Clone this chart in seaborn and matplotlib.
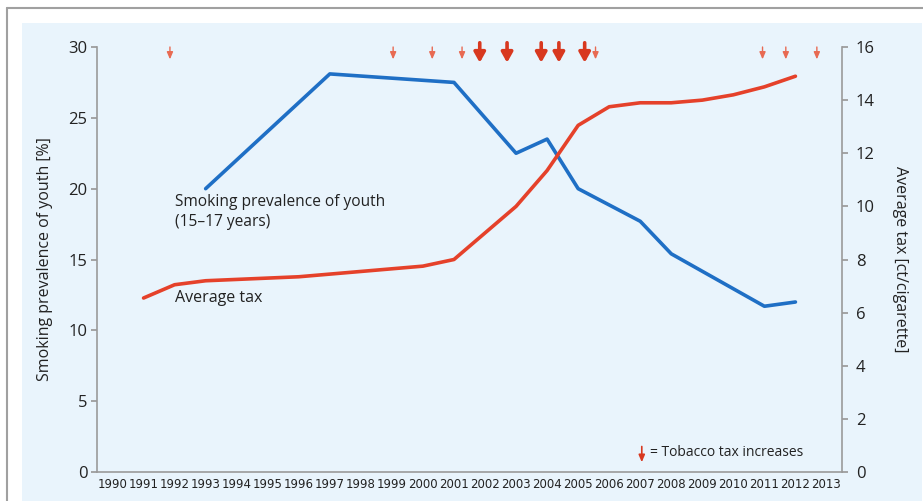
import matplotlib
matplotlib.use("Agg")
import matplotlib.pyplot as plt
import pandas as pd
import seaborn as sns
from matplotlib.lines import Line2D
from matplotlib.patches import Rectangle

sns.set_theme(style="white")
plt.rcParams["font.family"] = ["Open Sans", "DejaVu Sans"]

# Data
youth_years = [1993, 1997, 2001, 2003, 2004, 2005, 2007, 2008, 2011, 2012]
youth_prevalence = [20.0, 28.1, 27.5, 22.5, 23.5, 20.0, 17.7, 15.4, 11.7, 12.0]

tax_years = list(range(1991, 2013))
tax_values = [6.55, 7.05, 7.2, 7.25, 7.3, 7.35, 7.45, 7.55, 7.65, 7.75, 8.0,
              9.0, 10.0, 11.35, 13.05, 13.75, 13.9, 13.9, 14.0, 14.2, 14.5, 14.9]

# Tobacco tax increases (small and large arrows)
small_increases = [1991.85, 1999.04, 2000.3, 2001.26, 2005.56, 2010.94, 2011.69, 2012.69]
large_increases = [2001.83, 2002.71, 2003.81, 2004.38, 2005.21]

year_labels = list(range(1990, 2014))

blue = "#1f6fc5"
red = "#e5412a"
grey = "#9a9a9a"
txt = "#222222"
panel = "#e9f4fc"

youth = pd.DataFrame({"year": youth_years, "prev": youth_prevalence})
tax = pd.DataFrame({"year": tax_years, "tax": tax_values})

fig = plt.figure(figsize=(9.23, 5.01), dpi=100)
fig.patch.set_facecolor("white")
fig.patches.append(Rectangle((22 / 923, 0), 900 / 923, 478 / 501,
                             transform=fig.transFigure, facecolor=panel,
                             edgecolor="none", zorder=-5))
fig.add_artist(Line2D([7 / 923, 1], [1 - 8 / 501, 1 - 8 / 501],
                      transform=fig.transFigure, color="#a0a0a0", lw=1.5))
fig.add_artist(Line2D([7 / 923, 7 / 923], [0, 1 - 8 / 501],
                      transform=fig.transFigure, color="#a0a0a0", lw=1.5))

ax = fig.add_axes([97 / 923, 29 / 501, 745 / 923, 425 / 501])
ax.set_facecolor("none")
ax2 = ax.twinx()

sns.lineplot(data=youth, x="year", y="prev", ax=ax, color=blue, lw=2.6)
sns.lineplot(data=tax, x="year", y="tax", ax=ax2, color=red, lw=2.6)

ax.set_xlim(1989.5, 2013.5)
ax.set_ylim(0, 30)
ax2.set_ylim(0, 16)
ax.set_yticks(range(0, 31, 5))
ax2.set_yticks(range(0, 17, 2))
ax.set_xticks(year_labels)
ax.set_xticklabels([str(y) for y in year_labels], fontsize=8.5, color=txt,
                   family=["Liberation Sans Narrow", "DejaVu Sans"])
ax.set_xticks([y - 0.5 for y in year_labels] + [2013.5], minor=True)
ax.tick_params(axis="x", which="major", length=0, pad=4)
ax.tick_params(axis="x", which="minor", length=4, direction="in", color=grey)
ax.tick_params(axis="y", length=4, color=grey, labelsize=12, labelcolor=txt, pad=3)
ax2.tick_params(axis="y", length=4, color=grey, labelsize=12, labelcolor=txt, pad=6)

for a in (ax, ax2):
    a.spines["top"].set_visible(False)
    for s in ("left", "right", "bottom"):
        a.spines[s].set_color(grey)
        a.spines[s].set_linewidth(1.2)
ax.spines["right"].set_visible(False)
ax2.spines["left"].set_visible(False)
ax2.spines["bottom"].set_visible(False)

ax.set_xlabel("")
ax.set_ylabel("Smoking prevalence of youth [%]", fontsize=11.5, color=txt, labelpad=11)
ax2.set_ylabel("Average tax [ct/cigarette]", fontsize=11.5, color=txt,
               rotation=-90, labelpad=24)

ax.text(1992.02, 19.6, "Smoking prevalence of youth\n(15–17 years)",
        fontsize=11.2, color=txt, va="top", ha="left", linespacing=1.3)
ax.text(1992.02, 12.3, "Average tax", fontsize=11.5, color=txt, va="center", ha="left")

# Tax increase arrows along the top
for x in small_increases:
    ax.annotate("", xy=(x, 0.971), xytext=(x, 1.0),
                xycoords=("data", "axes fraction"),
                arrowprops=dict(arrowstyle="-|>,head_length=0.35,head_width=0.15",
                                color="#e86a52", lw=1.0, shrinkA=0, shrinkB=0),
                annotation_clip=False)
for x in large_increases:
    ax.annotate("", xy=(x, 0.963), xytext=(x, 1.01),
                xycoords=("data", "axes fraction"),
                arrowprops=dict(arrowstyle="-|>,head_length=0.5,head_width=0.28",
                                color="#d8381f", lw=2.6, shrinkA=0, shrinkB=0),
                annotation_clip=False)

# Legend for the arrows
ax.annotate("", xy=(2007.05, 0.023), xytext=(2007.05, 0.06),
            xycoords=("data", "axes fraction"),
            arrowprops=dict(arrowstyle="-|>,head_length=0.35,head_width=0.15",
                            color="#d8381f", lw=1.2, shrinkA=0, shrinkB=0))
ax.text(2007.3, 0.045, "= Tobacco tax increases", transform=ax.get_xaxis_transform(),
        fontsize=10, color=txt, va="center", ha="left")

fig.savefig("out.png", dpi=100)
